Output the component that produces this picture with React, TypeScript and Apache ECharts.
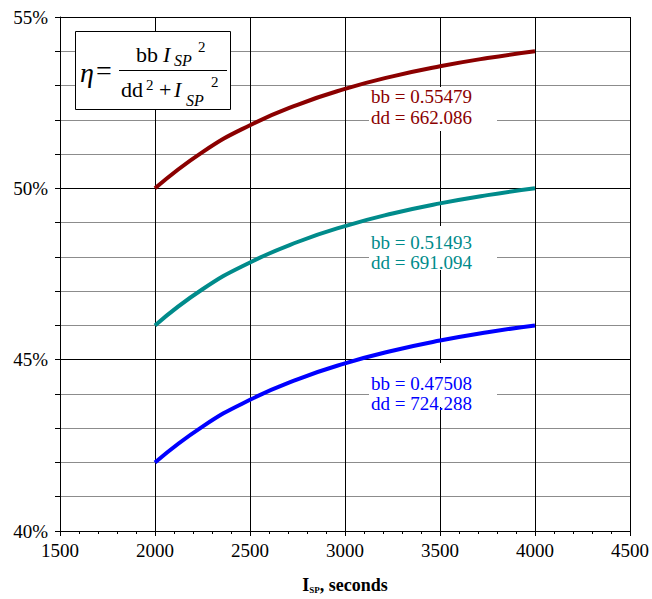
import React, { useEffect, useRef } from "react";
import * as echarts from "echarts";

const ispValues = [2000, 2250, 2500, 2750, 3000, 3250, 3500, 3750, 4000];
const etaCurveA = [50.0, 51.058, 51.843, 52.439, 52.902, 53.268, 53.562, 53.802, 54.0];
const etaCurveB = [46.0, 47.054, 47.837, 48.434, 48.898, 49.265, 49.561, 49.802, 50.0];
const etaCurveC = [42.0, 43.047, 43.829, 44.426, 44.891, 45.26, 45.557, 45.799, 46.0];
const seriesNames = ["bb = 0.55479, dd = 662.086", "bb = 0.51493, dd = 691.094", "bb = 0.47508, dd = 724.288"];
const labelLines = [
  ["bb = 0.55479", "dd = 662.086"],
  ["bb = 0.51493", "dd = 691.094"],
  ["bb = 0.47508", "dd = 724.288"],
];
const colors = ["#8B0000", "#008B8B", "#0000FF"];

const FONT = "'Liberation Serif', serif";

function txt(text: string, x: number, y: number, size: number, opts: any = {}) {
  return {
    type: "text",
    z: 20,
    style: {
      text,
      x,
      y,
      fontFamily: FONT,
      fontSize: size,
      fontStyle: opts.italic ? "italic" : "normal",
      fontWeight: opts.bold ? "bold" : "normal",
      fill: opts.fill || "#000",
      textAlign: "left",
      textVerticalAlign: "middle",
      align: "left",
      verticalAlign: "middle",
    },
  };
}

export default function App() {
  const ref = useRef<HTMLDivElement>(null);
  useEffect(() => {
    if (!ref.current) return;
    const chart = echarts.init(ref.current, undefined, { renderer: "svg" });
    const mk = (vals: number[]) => ispValues.map((x, i) => [x, vals[i]]);
    const labelTops = [87, 226, 363];
    const labelMids = [
      [96.5, 117.5],
      [242.5, 262.5],
      [383.5, 403.5],
    ];
    const graphic: any[] = [
      {
        type: "rect",
        z: 15,
        shape: { x: 75.5, y: 31.5, width: 155, height: 78 },
        style: { fill: "#fff", stroke: "#000", lineWidth: 1 },
      },
      txt("η", 80, 72, 28, { italic: true }),
      txt("=", 96, 70, 28),
      { type: "line", z: 20, shape: { x1: 119, y1: 70.5, x2: 227, y2: 70.5 }, style: { stroke: "#000", lineWidth: 1 } },
      txt("bb", 136, 54, 22),
      txt("I", 163, 54, 22, { italic: true }),
      txt("SP", 174, 60.5, 16, { italic: true }),
      txt("2", 198, 47, 15),
      txt("dd", 121, 89, 22),
      txt("2", 146, 85, 15),
      txt("+", 159, 89, 22),
      txt("I", 174, 89, 22, { italic: true }),
      txt("SP", 186, 100, 16, { italic: true }),
      txt("2", 211, 82, 15),
    ];
    labelLines.forEach((lines, i) => {
      graphic.push({
        type: "rect",
        z: 15,
        shape: { x: 369, y: labelTops[i], width: 128, height: 44 },
        style: { fill: "#fff" },
      });
      graphic.push(txt(lines[0], 371, labelMids[i][0], 19, { fill: colors[i] }));
      graphic.push(txt(lines[1], 371, labelMids[i][1], 19, { fill: colors[i] }));
    });

    chart.setOption({
      animation: false,
      backgroundColor: "#fff",
      textStyle: { fontFamily: FONT },
      grid: { left: 60, right: 22, top: 17, bottom: 66, containLabel: false },
      xAxis: {
        type: "value",
        min: 1500,
        max: 4500,
        interval: 500,
        name: "{b|I}{s|SP}{b|, seconds}",
        nameLocation: "middle",
        nameGap: 45,
        nameTextStyle: {
          rich: {
            b: { fontFamily: FONT, fontWeight: "bold", fontSize: 18, color: "#000" },
            s: { fontFamily: FONT, fontWeight: "bold", fontSize: 9, color: "#000", verticalAlign: "bottom", padding: [8, 0, 0, 0] },
          },
        },
        axisLine: { show: true, onZero: false, lineStyle: { color: "#000", width: 1 } },
        axisTick: { show: true, inside: false, length: 5, lineStyle: { color: "#000" } },
        minorTick: { show: true, splitNumber: 5, length: 3, lineStyle: { color: "#000" } },
        axisLabel: { fontFamily: FONT, fontSize: 19, color: "#000", margin: 10, formatter: (v: number) => String(v) },
        splitLine: { show: true, lineStyle: { color: "#000", width: 1 } },
      },
      yAxis: {
        type: "value",
        min: 40,
        max: 55,
        interval: 5,
        axisLine: { show: true, onZero: false, lineStyle: { color: "#000", width: 1 } },
        axisTick: { show: true, inside: false, length: 5, lineStyle: { color: "#000" } },
        minorTick: { show: true, splitNumber: 5, length: 5, lineStyle: { color: "#000" } },
        minorSplitLine: { show: true, lineStyle: { color: "#8c8c8c", width: 1 } },
        axisLabel: {
          fontFamily: FONT,
          fontSize: 19,
          color: "#000",
          margin: 12,
          formatter: (v: number) => `${v}%`,
        },
        splitLine: { show: true, lineStyle: { color: "#000", width: 1 } },
      },
      series: [etaCurveA, etaCurveB, etaCurveC].map((vals, i) => ({
        type: "line",
        name: seriesNames[i],
        data: mk(vals),
        smooth: true,
        showSymbol: false,
        symbol: "none",
        z: 5,
        lineStyle: { color: colors[i], width: 4 },
      })),
      graphic,
    });
    return () => chart.dispose();
  }, []);
  return <div ref={ref} style={{ position: "fixed", left: 0, top: 0, width: 652, height: 599 }} />;
}
